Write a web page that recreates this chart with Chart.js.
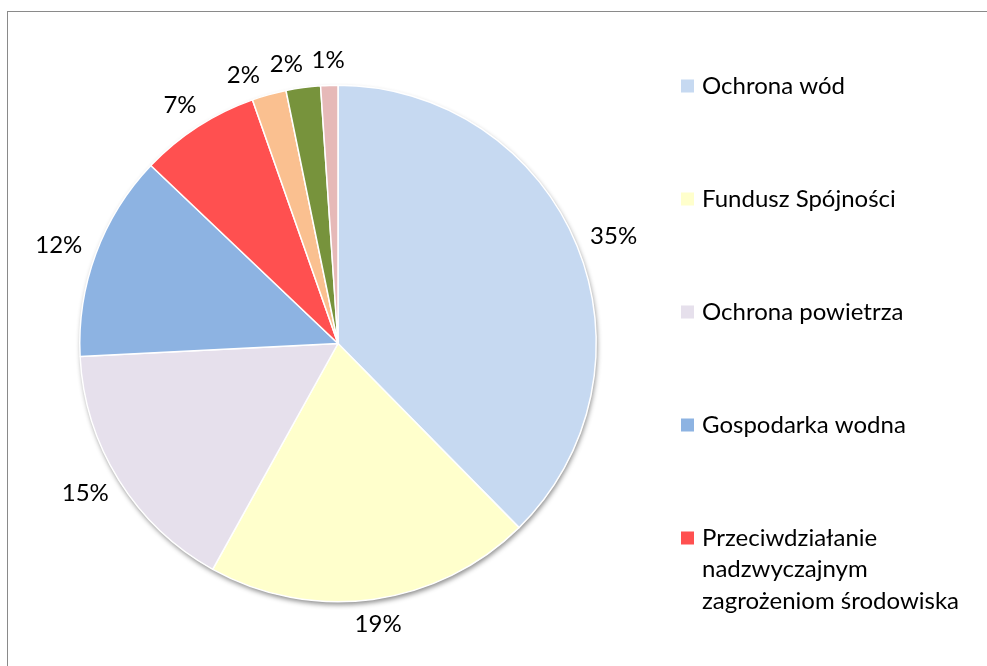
<!DOCTYPE html>
<html>
<head>
<meta charset="utf-8">
<script src="https://cdn.jsdelivr.net/npm/chart.js@4.4.0/dist/chart.umd.min.js"></script>
<style>
  html, body { margin: 0; padding: 0; background: #fff; }
  #wrap { position: relative; width: 987px; height: 666px; overflow: hidden; }
  #frame { position: absolute; left: 7px; top: 11px; width: 1000px; height: 700px; border: 1.5px solid #8a8a8a; }
  #pie { position: absolute; left: 0; top: 0; }
</style>
</head>
<body>
<div id="wrap">
  <div id="frame"></div>
  <canvas id="pie" width="987" height="666"></canvas>
</div>
<script>
// udzial kategorii (procenty z etykiet)
var kategorie = [
    'Ochrona wód',
    'Fundusz Spójności',
    'Ochrona powietrza',
    'Gospodarka wodna',
    'Przeciwdziałanie nadzwyczajnym zagrożeniom środowiska',
    'Ochrona przyrody',
    'Gospodarka odpadami',
    'Edukacja ekologiczna'
];
var udzialy = [35, 19, 15, 12, 7, 2, 2, 1];
var kolory = ['#c6d9f1', '#ffffcc', '#e6e0ec', '#8db3e2', '#ff5050', '#fac090', '#77933c', '#e6b9b8'];

var FONT = 'Lato, "Open Sans", sans-serif';

/* cien pod kolem */
var cienKola = {
    id: 'cienKola',
    beforeDatasetsDraw: function(chart) {
        var arc = chart.getDatasetMeta(0).data[0];
        if (!arc) return;
        var ctx = chart.ctx;
        ctx.save();
        ctx.shadowColor = 'rgba(0,0,0,0.45)';
        ctx.shadowBlur = 5;
        ctx.shadowOffsetX = 1;
        ctx.shadowOffsetY = 3;
        ctx.fillStyle = '#fff';
        ctx.beginPath();
        ctx.arc(arc.x, arc.y, arc.outerRadius, 0, Math.PI * 2);
        ctx.fill();
        ctx.restore();
    }
};

/* etykiety procentowe na zewnatrz, z rozsuwaniem nachodzacych */
var etykiety = {
    id: 'etykiety',
    afterDatasetsDraw: function(chart) {
        var ctx = chart.ctx;
        var meta = chart.getDatasetMeta(0);
        ctx.save();
        ctx.font = '24px ' + FONT;
        ctx.fillStyle = '#000';
        ctx.textAlign = 'center';
        ctx.textBaseline = 'middle';
        var h = 18, odstep = 8;
        function poz(arc, kat, w) {
            var dx = Math.cos(kat), dy = Math.sin(kat);
            var d = arc.outerRadius + 16;
            return { x: arc.x + dx * d + dx * w / 2, y: arc.y + dy * d + dy * h / 2, w: w };
        }
        function koliduje(a, b) {
            return Math.abs(a.x - b.x) < (a.w + b.w) / 2 + odstep && Math.abs(a.y - b.y) < h + 2;
        }
        var boxy = [];
        for (var i = meta.data.length - 1; i >= 0; i--) {
            var arc = meta.data[i];
            var txt = udzialy[i] + '%';
            var w = ctx.measureText(txt).width;
            var kat = (arc.startAngle + arc.endAngle) / 2;
            var b = poz(arc, kat, w);
            var nast = boxy[i + 1];
            var n = 0;
            while (nast && koliduje(b, nast) && n < 60) {
                kat -= Math.PI / 360;
                b = poz(arc, kat, w);
                n++;
            }
            b.txt = txt;
            boxy[i] = b;
        }
        boxy.forEach(function(b) { ctx.fillText(b.txt, b.x, b.y); });
        ctx.restore();
    }
};

/* legenda po prawej (widac tylko 5 pozycji) */
var legendaBoczna = {
    id: 'legendaBoczna',
    afterDraw: function(chart) {
        var ctx = chart.ctx;
        var x0 = 681, y0 = 86, krok = 113, kw = 13, maxW = 285, linia = 31.5;
        ctx.save();
        ctx.font = '24px ' + FONT;
        ctx.textBaseline = 'middle';
        ctx.textAlign = 'left';
        for (var i = 0; i < 5; i++) {
            var y = y0 + i * krok;
            ctx.fillStyle = kolory[i];
            ctx.fillRect(x0, y - kw / 2, kw, kw);
            // zawijanie tekstu
            var slowa = kategorie[i].split(' ');
            var linie = [], akt = '';
            slowa.forEach(function(s) {
                var test = akt ? akt + ' ' + s : s;
                if (ctx.measureText(test).width > maxW && akt) {
                    linie.push(akt);
                    akt = s;
                } else {
                    akt = test;
                }
            });
            linie.push(akt);
            ctx.fillStyle = '#000';
            linie.forEach(function(l, j) {
                ctx.fillText(l, x0 + 21, y + j * linia);
            });
        }
        ctx.restore();
    }
};

var ctxPie = document.getElementById('pie');
var wykres = new Chart(ctxPie, {
    type: 'pie',
    data: {
        labels: kategorie,
        datasets: [{
            data: udzialy,
            backgroundColor: kolory,
            borderColor: '#ffffff',
            borderWidth: 1.5,
            hoverOffset: 0
        }]
    },
    options: {
        responsive: false,
        animation: false,
        events: [],
        layout: { padding: { left: 79, right: 390, top: 84, bottom: 63 } },
        plugins: {
            legend: { display: false },
            tooltip: { enabled: false }
        }
    },
    plugins: [cienKola, etykiety, legendaBoczna]
});
</script>
</body>
</html>
